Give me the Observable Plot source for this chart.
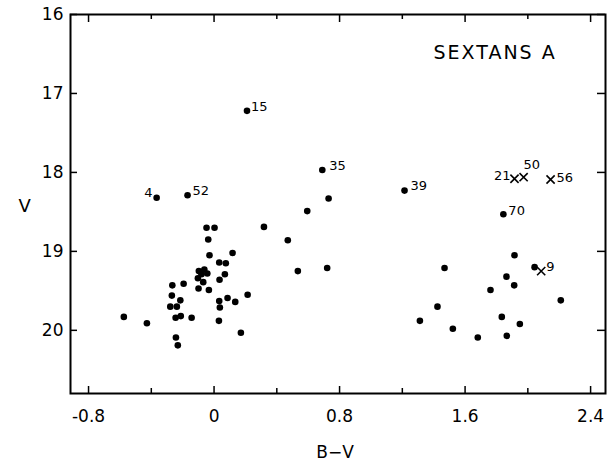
<!DOCTYPE html>
<html><head><meta charset="utf-8">
<script src="https://cdn.jsdelivr.net/npm/d3@7"></script>
<script src="https://cdn.jsdelivr.net/npm/@observablehq/plot@0.6"></script>
<style>body{margin:0;background:#fff}</style>
</head><body><div id="chart"></div>
<script>
// Unlabeled stars (filled dots)
const dotBV = [-0.575,-0.428,-0.266,-0.269,-0.194,-0.215,-0.279,-0.237,-0.245,-0.212,-0.143,-0.243,-0.231,
  -0.048,0.003,-0.037,-0.029,0.118,0.033,0.075,-0.097,-0.062,-0.043,-0.103,-0.069,-0.080,0.069,0.035,
  -0.099,-0.033,0.033,0.037,0.086,0.135,0.214,0.031,0.171,0.318,0.470,0.534,0.721,0.594,0.730,
  1.915,2.043,1.469,1.864,1.913,1.762,1.424,2.210,1.312,1.834,1.949,1.522,1.681,1.866];
const dotV = [19.83,19.91,19.43,19.56,19.41,19.62,19.70,19.70,19.84,19.82,19.84,20.09,20.19,
  18.70,18.70,18.85,19.05,19.02,19.14,19.15,19.25,19.23,19.28,19.34,19.39,19.29,19.29,19.36,
  19.47,19.49,19.63,19.71,19.59,19.64,19.55,19.88,20.03,18.69,18.86,19.25,19.21,18.49,18.33,
  19.05,19.20,19.21,19.32,19.43,19.49,19.70,19.62,19.88,19.83,19.92,19.98,20.09,20.07];
// Labeled stars (filled dots)
const labeledNames = ["4","52","15","35","39","70"];
const labeledBV = [-0.366,-0.169,0.210,0.690,1.214,1.844];
const labeledV = [18.32,18.29,17.22,17.97,18.23,18.53];
// Labeled stars (crosses)
const crossNames = ["21","50","56","9"];
const crossBV = [1.915,1.973,2.145,2.085];
const crossV = [18.08,18.06,18.09,19.25];
// Axes
const xTickLabels = [-0.8,0,0.8,1.6,2.4];
const xMinorTicks = [-0.4,0.4,1.2,2.0];
const yTickLabels = [16,17,18,19,20];
const title = "SEXTANS A";
const xLabel = "B\u2212V";
const yLabel = "V";

// label placement: [textAnchor, dx, dy]
const place = {
  "4": ["end",-4,-1], "52": ["start",5,0], "15": ["start",4,0], "35": ["start",7,0],
  "39": ["start",6,-1], "70": ["start",5,1],
  "21": ["end",-4,1], "50": ["start",0,-8], "56": ["start",6,2], "9": ["start",5,0]
};

const W = 608, H = 461, mL = 70, mR = 3, mT = 14, mB = 68;
const fw = W - mL - mR, fh = H - mT - mB;

const dots = dotBV.map((b, i) => ({bv: b, v: dotV[i]}));
const labeled = labeledNames.map((n, i) => ({name: n, bv: labeledBV[i], v: labeledV[i]}));
const crosses = crossNames.map((n, i) => ({name: n, bv: crossBV[i], v: crossV[i]}));

const labelMarks = [...labeled, ...crosses].map(d => Plot.text([d], {
  x: "bv", y: "v", text: "name", textAnchor: place[d.name][0], dx: place[d.name][1], dy: place[d.name][2],
  lineAnchor: "bottom", fontSize: 13, fill: "black"
}));

const chart = Plot.plot({
  width: W, height: H,
  marginLeft: mL, marginRight: mR, marginTop: mT, marginBottom: mB,
  style: {fontFamily: "'DejaVu Sans', sans-serif", fontSize: "17px", color: "black", background: "white", overflow: "visible"},
  x: {domain: [-0.915, 2.495]},
  y: {domain: [16, 20.8], reverse: true},
  marks: [
    Plot.frame({stroke: "black", strokeWidth: 2}),
    Plot.axisX({ticks: xTickLabels, anchor: "bottom", tickSize: 0, tickPadding: 16, tickFormat: d => String(d), label: null}),
    Plot.axisY({ticks: yTickLabels, anchor: "left", tickSize: 0, tickPadding: 7, tickFormat: d => String(d), label: null}),
    Plot.tickX(xTickLabels, {x: d => d, insetTop: fh - 7, strokeWidth: 1.5}),
    Plot.tickX(xMinorTicks, {x: d => d, insetTop: fh - 5, strokeWidth: 1.5}),
    Plot.tickX(xTickLabels, {x: d => d, insetBottom: fh - 8, strokeWidth: 1.5}),
    Plot.tickX(xMinorTicks, {x: d => d, insetBottom: fh - 5, strokeWidth: 1.5}),
    Plot.tickY(yTickLabels, {y: d => d, insetRight: fw - 7, strokeWidth: 1.5}),
    Plot.tickY(yTickLabels, {y: d => d, insetLeft: fw - 8, strokeWidth: 1.5}),
    Plot.dot(dots, {x: "bv", y: "v", r: 3.3, fill: "black"}),
    Plot.dot(labeled, {x: "bv", y: "v", r: 3.3, fill: "black"}),
    Plot.dot(crosses, {x: "bv", y: "v", symbol: "times", r: 3.8, stroke: "black", strokeWidth: 1.6}),
    ...labelMarks,
    Plot.text([title], {frameAnchor: "top-left", dx: 363, dy: 38, textAnchor: "start", lineAnchor: "middle", fontSize: 19, fill: "black"}),
    Plot.text([xLabel], {frameAnchor: "bottom", dx: -3, dy: 59, lineAnchor: "middle", fontSize: 17, fill: "black"}),
    Plot.text([yLabel], {frameAnchor: "left", dx: -52, dy: 2, lineAnchor: "middle", fontSize: 18, fill: "black"})
  ]
});
d3.select(chart).selectAll("text").filter(function () { return this.textContent === title; }).attr("letter-spacing", 2);
document.getElementById("chart").appendChild(chart);
</script>
</body></html>
